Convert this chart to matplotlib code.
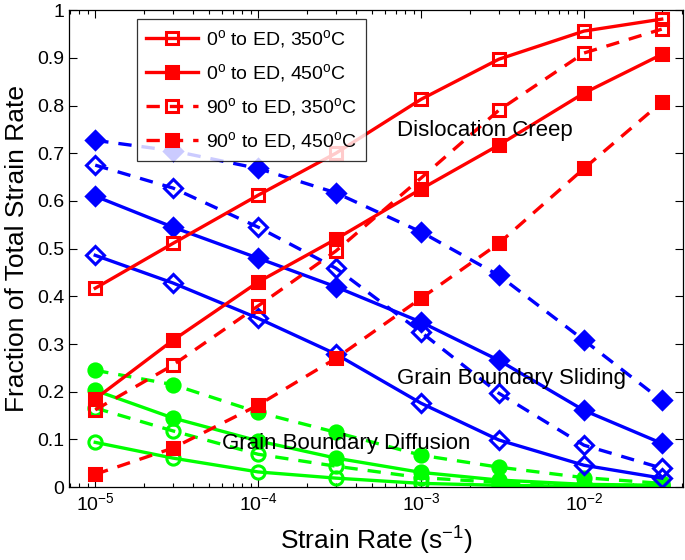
import matplotlib
matplotlib.use("Agg")
import matplotlib.pyplot as plt
from matplotlib.ticker import LogLocator, NullFormatter, MultipleLocator, FuncFormatter

plt.rcParams['font.family'] = ['Liberation Sans', 'DejaVu Sans']
plt.rcParams['mathtext.fontset'] = 'custom'
plt.rcParams['mathtext.rm'] = 'Liberation Sans'
plt.rcParams['mathtext.it'] = 'Liberation Sans:italic'

# strain rates (1/s)
rate = [1e-5, 3e-5, 1e-4, 3e-4, 1e-3, 3e-3, 1e-2, 3e-2]

# dislocation creep (red)
dc_0_350 = [0.417, 0.511, 0.612, 0.700, 0.813, 0.897, 0.956, 0.981]
dc_0_450 = [0.185, 0.308, 0.430, 0.520, 0.625, 0.717, 0.826, 0.907]
dc_90_350 = [0.162, 0.256, 0.380, 0.495, 0.648, 0.790, 0.910, 0.960]
dc_90_450 = [0.027, 0.082, 0.172, 0.270, 0.396, 0.511, 0.668, 0.807]

# grain boundary sliding (blue)
gbs_0_350 = [0.486, 0.428, 0.354, 0.279, 0.176, 0.099, 0.046, 0.019]
gbs_0_450 = [0.610, 0.545, 0.480, 0.420, 0.346, 0.266, 0.161, 0.092]
gbs_90_350 = [0.675, 0.627, 0.545, 0.459, 0.325, 0.197, 0.088, 0.040]
gbs_90_450 = [0.727, 0.705, 0.668, 0.617, 0.535, 0.444, 0.308, 0.182]

# grain boundary diffusion (green)
gbd_0_350 = [0.094, 0.061, 0.032, 0.019, 0.008, 0.004, 0.002, 0.001]
gbd_0_450 = [0.203, 0.145, 0.097, 0.061, 0.031, 0.015, 0.006, 0.004]
gbd_90_350 = [0.166, 0.118, 0.069, 0.044, 0.020, 0.010, 0.005, 0.003]
gbd_90_450 = [0.245, 0.215, 0.157, 0.115, 0.067, 0.042, 0.020, 0.008]

labels = ['0$^\\mathrm{o}$ to ED, 350$^\\mathrm{o}$C',
          '0$^\\mathrm{o}$ to ED, 450$^\\mathrm{o}$C',
          '90$^\\mathrm{o}$ to ED, 350$^\\mathrm{o}$C',
          '90$^\\mathrm{o}$ to ED, 450$^\\mathrm{o}$C']

fig = plt.figure(figsize=(6.85, 5.6), dpi=100)
ax = fig.add_axes([0.1007, 0.130, 0.8963, 0.852])

lw = 2.4
styles = ['-', '-', '--', '--']
filled = [False, True, False, True]

def draw(series, color, marker, ms, lab=False):
    hs = []
    for k, y in enumerate(series):
        h, = ax.plot(rate, y, linestyle=styles[k], color=color, lw=lw,
                     marker=marker, ms=ms, mew=2.2,
                     mfc=color if filled[k] else 'none', mec=color,
                     dashes=(4, 3) if styles[k] == '--' else (None, None),
                     label=labels[k] if lab else None)
        hs.append(h)
    return hs

draw([gbd_0_350, gbd_0_450, gbd_90_350, gbd_90_450], (0, 1, 0), 'o', 9.5)
draw([gbs_0_350, gbs_0_450, gbs_90_350, gbs_90_450], (0, 0, 1), 'D', 8.8)
hs = draw([dc_0_350, dc_0_450, dc_90_350, dc_90_450], (1, 0, 0), 's', 8.5, lab=True)

ax.set_xscale('log')
ax.set_xlim(6.9e-6, 4.05e-2)
ax.set_ylim(0, 1)
ax.yaxis.set_major_locator(MultipleLocator(0.1))
ax.yaxis.set_major_formatter(FuncFormatter(lambda v, p: '%g' % round(v, 1)))
ax.xaxis.set_major_locator(LogLocator(base=10, numticks=10))
ax.xaxis.set_minor_locator(LogLocator(base=10, subs=range(2, 10), numticks=10))
ax.xaxis.set_minor_formatter(NullFormatter())
ax.tick_params(which='both', direction='in', top=True, right=True, labelsize=14)
ax.tick_params(which='major', length=6, width=0.8)
ax.tick_params(which='minor', length=3, width=0.8)
for s in ax.spines.values():
    s.set_linewidth(0.9)

ax.set_xlabel('Strain Rate (s$^{-1}$)', fontsize=19, labelpad=8)
ax.set_ylabel('Fraction of Total Strain Rate', fontsize=19, labelpad=6)

ax.text(7.1e-4, 0.748, 'Dislocation Creep', fontsize=16, va='center', ha='left')
ax.text(7.1e-4, 0.228, 'Grain Boundary Sliding', fontsize=16, va='center', ha='left')
ax.text(6.0e-5, 0.092, 'Grain Boundary Diffusion', fontsize=16, va='center', ha='left')

leg = ax.legend(handles=hs, loc='upper left', bbox_to_anchor=(0.111, 0.981),
                fontsize=14, frameon=True, fancybox=False, edgecolor='black',
                handlelength=2.7, borderpad=0.45, labelspacing=0.62,
                handletextpad=0.4, borderaxespad=0)
leg.get_frame().set_linewidth(0.9)

fig.savefig('out.png', dpi=100)
